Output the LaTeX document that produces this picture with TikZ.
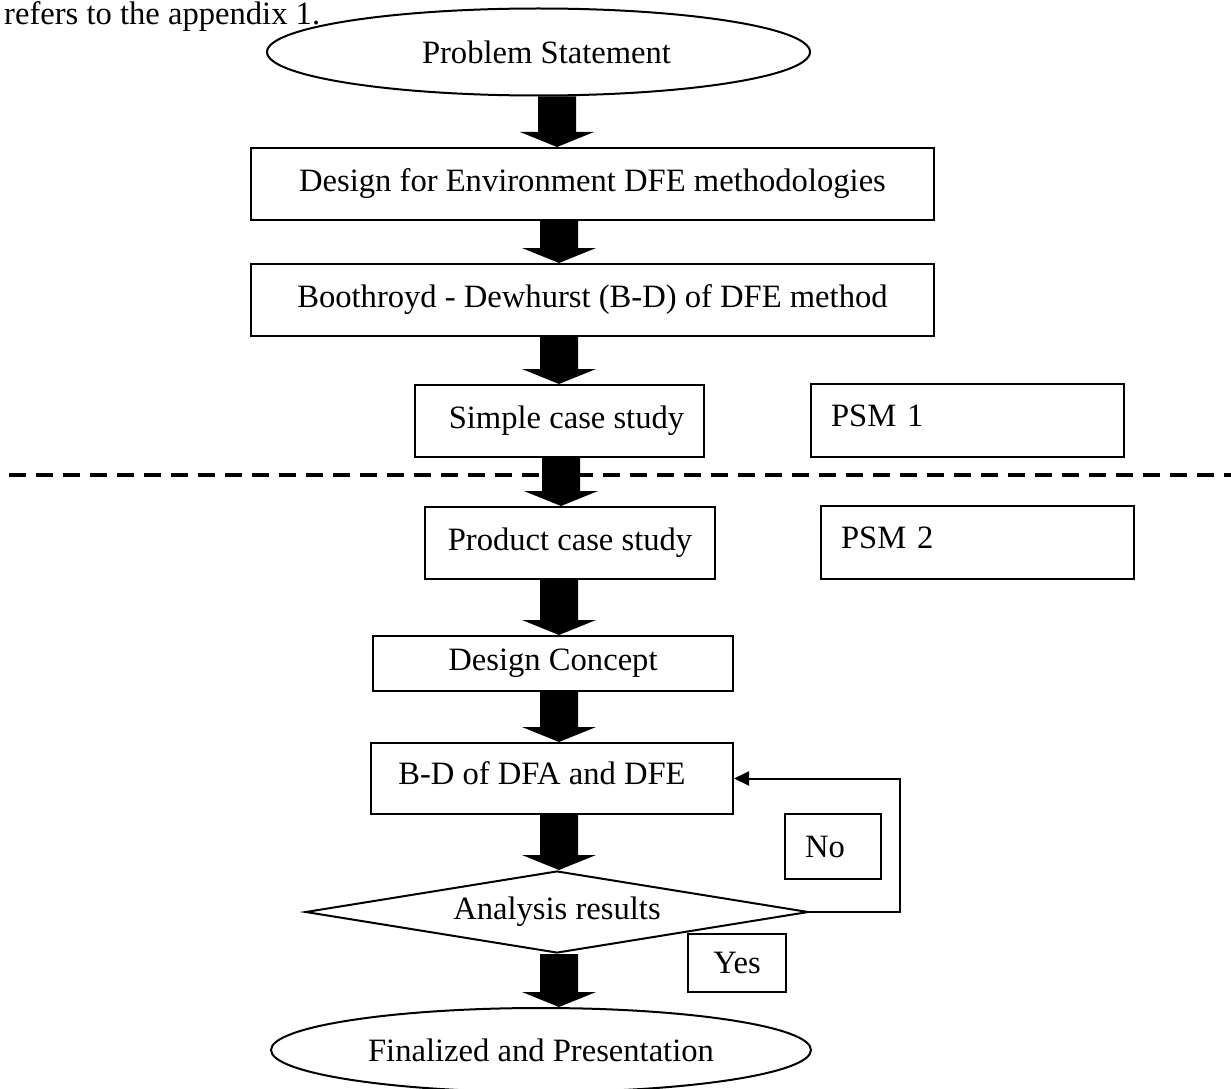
\documentclass[tikz,border=0pt]{standalone}
\usepackage{fontspec}
\setmainfont{Liberation Serif}
\usetikzlibrary{shapes.geometric,arrows.meta,calc}
\newcommand\blockarr[2]{\fill ($(#1)+(-19,0)$) -- ($(#2)+(-19,-15)$) -- ($(#2)+(-37,-15)$) -- (#2) -- ($(#2)+(37,-15)$) -- ($(#2)+(19,-15)$) -- ($(#1)+(19,0)$) -- cycle;}
\begin{document}
\begin{tikzpicture}[x=1pt,y=-1pt,
  every node/.style={font=\fontsize{32.6}{39}\selectfont},
  box/.style={draw,line width=2pt,rectangle,inner sep=0pt},
  up/.style={text height=22pt,text depth=10pt},
  psm/.style={box,up,minimum width=313pt,minimum height=73pt,text width=273pt,inner xsep=20pt,align=left},
  oval/.style={draw,line width=2pt,ellipse,inner sep=0pt},
  dec/.style={draw,line width=2pt,diamond,aspect=6.1,inner sep=0pt},
  fb/.style={line width=2pt,-{Triangle[length=15pt,width=14pt]}},
  sep/.style={line width=4pt,dash pattern=on 17pt off 10pt}]
\useasboundingbox (0,0) rectangle (1231,1089);
\node[anchor=base west,inner sep=0pt] (ref) at (4,25) {refers to the appendix 1.};
\node[oval,minimum width=543pt,minimum height=87pt] (ps) at (538.5,52) {\hspace*{16pt}Problem Statement};
\node[box,minimum width=683pt,minimum height=72pt] (b1) at (592.5,184) {Design for Environment DFE methodologies};
\node[box,minimum width=683pt,minimum height=72pt] (b2) at (592.5,300) {Boothroyd - Dewhurst (B-D) of DFE method};
\node[box,minimum width=289pt,minimum height=72pt] (sc) at (559.5,421) {\hspace*{14pt}Simple case study};
\node[psm] (p1) at (967.5,420.5) {PSM 1};
\node[box,minimum width=290pt,minimum height=72pt] (pc) at (570,543) {Product case study};
\node[psm] (p2) at (977.5,542.5) {PSM 2};
\node[box,minimum width=360pt,minimum height=55pt] (dc) at (553,663.5) {Design Concept};
\node[box,up,minimum width=362pt,minimum height=71pt] (bd) at (552,778.5) {B-D of DFA and DFE\hspace*{20pt}};
\node[box,minimum width=96pt,minimum height=65pt] (no) at (833,846.5) {No\hspace*{16pt}};
\node[dec,minimum width=503pt,minimum height=82pt] (an) at (557,912) {Analysis results};
\node[box,minimum width=98pt,minimum height=58pt] (yes) at (737,963) {Yes};
\node[oval,minimum width=540pt,minimum height=84pt] (fp) at (541,1050) {Finalized and Presentation};
% separator
\coordinate (dl) at (9,475);
\coordinate (dr) at (1231,475);
\draw[sep] (dl) -- (dr);
% block arrows
\coordinate (ax1) at (557,0);
\coordinate (ax) at (559,0);
\coordinate (ax2) at (561,0);
\blockarr{ax1 |- ps.south}{ax1 |- b1.north}
\blockarr{ax |- b1.south}{ax |- b2.north}
\blockarr{ax |- b2.south}{ax |- sc.north}
\blockarr{ax2 |- sc.south}{ax2 |- pc.north}
\blockarr{ax |- pc.south}{ax |- dc.north}
\blockarr{ax |- dc.south}{ax |- bd.north}
\blockarr{ax |- bd.south}{ax |- an.north}
\blockarr{ax |- an.south}{ax |- fp.north}
% feedback loop
\coordinate (fx) at (900,0);
\draw[fb] (an.east) -- (fx |- an.east) -- (fx |- bd.east) -- (bd.east);
\end{tikzpicture}
\end{document}
